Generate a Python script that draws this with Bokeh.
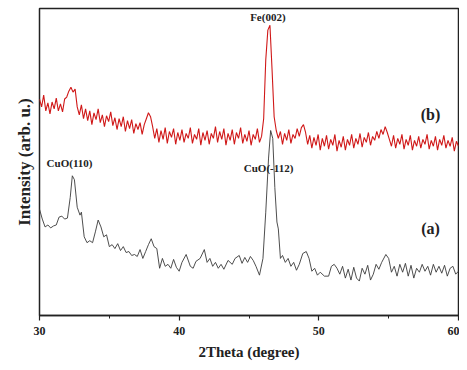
import numpy as np
from bokeh.plotting import figure
from bokeh.models import Range1d, FixedTicker
from bokeh.core.properties import value
from bokeh.embed import file_html
from bokeh.resources import INLINE

# curve (a): CuO sample
a_x = [30.0, 30.2, 30.4, 30.6, 30.8, 31.0, 31.2, 31.4, 31.6, 31.8, 32.0, 32.2, 32.35, 32.5, 32.7, 32.9,
       33.0, 33.2, 33.4, 33.6, 33.8, 34.0, 34.2, 34.4, 34.6, 34.8, 35.0, 35.2, 35.4, 35.6, 35.8,
       36.0, 36.2, 36.4, 36.6, 36.8, 37.0, 37.2, 37.4, 37.6, 37.8, 38.0, 38.2, 38.4, 38.6, 38.8,
       39.0, 39.2, 39.4, 39.6, 39.8, 40.0, 40.2, 40.5, 40.8, 41.0, 41.2, 41.5, 41.8, 42.0, 42.2,
       42.4, 42.6, 42.8, 43.0, 43.2, 43.5, 43.8, 44.0, 44.3, 44.5, 44.7, 44.9, 45.1, 45.3, 45.5,
       45.75, 46.0, 46.2, 46.4, 46.55, 46.7, 46.85, 47.0, 47.1, 47.25, 47.4, 47.6, 47.8, 48.0,
       48.2, 48.4, 48.6, 48.85, 49.1, 49.3, 49.5, 49.7, 49.9, 50.1, 50.4, 50.7, 50.9, 51.1, 51.3,
       51.5, 51.7, 51.9, 52.1, 52.3, 52.5, 52.7, 52.9, 53.1, 53.3, 53.5, 53.7, 53.9, 54.1, 54.3,
       54.5, 54.8, 55.0, 55.2, 55.4, 55.6, 55.8, 56.0, 56.2, 56.4, 56.6, 56.8, 57.0, 57.2, 57.4,
       57.6, 57.8, 58.0, 58.2, 58.4, 58.6, 58.8, 59.0, 59.2, 59.4, 59.6, 59.8, 60.0]
a_y = [108, 98, 90, 92, 89, 91, 92, 100, 101, 98, 99, 120, 142, 138, 110, 102,
       105, 80, 74, 76, 74, 85, 97, 90, 80, 82, 70, 72, 68, 73, 66,
       70, 64, 65, 61, 62, 60, 67, 58, 65, 72, 78, 70, 68, 48, 58,
       50, 52, 48, 57, 49, 45, 54, 62, 50, 48, 55, 58, 67, 54, 58,
       50, 54, 48, 52, 47, 56, 52, 58, 61, 53, 59, 54, 60, 56, 50,
       41, 58, 105, 160, 188, 180, 130, 95, 88, 58, 61, 54, 58, 50,
       54, 46, 52, 63, 65, 58, 45, 48, 41, 44, 40, 40, 50, 52, 48,
       42, 50, 38, 47, 36, 49, 38, 35, 48, 42, 51, 36, 42, 52, 47,
       54, 62, 58, 44, 50, 40, 52, 44, 53, 40, 51, 38, 48, 44, 52,
       45, 50, 41, 52, 44, 50, 43, 51, 40, 48, 50, 42, 45]

# curve (b): Fe sample, sampled every 0.15 degree from 30 to 60
b_y = [220, 212, 224, 208, 216, 205, 217, 210, 221, 208,
       215, 207, 220, 222, 228, 232, 227, 230, 212, 204,
       214, 200, 210, 198, 208, 194, 206, 199, 210, 196,
       204, 192, 203, 197, 207, 193, 201, 189, 200, 192,
       202, 187, 198, 190, 199, 185, 195, 189, 196, 184,
       194, 200, 206, 202, 192, 180, 190, 176, 188, 179,
       191, 175, 187, 181, 190, 174, 186, 178, 189, 176,
       185, 180, 191, 175, 184, 179, 190, 173, 186, 178,
       188, 174, 185, 180, 192, 176, 187, 179, 190, 173,
       185, 178, 189, 174, 186, 180, 191, 175, 184, 177,
       188, 173, 184, 179, 190, 176, 182, 200, 260, 290,
       295, 250, 202, 188, 180, 187, 174, 185, 178, 189,
       175, 184, 180, 190, 182, 191, 194, 186, 174, 183,
       170, 181, 173, 184, 168, 180, 172, 183, 169, 179,
       173, 184, 167, 178, 171, 182, 168, 179, 173, 184,
       170, 180, 174, 185, 171, 181, 176, 186, 173, 182,
       178, 187, 180, 189, 184, 192, 186, 179, 172, 183,
       170, 180, 174, 184, 169, 179, 173, 183, 168, 178,
       172, 182, 170, 179, 174, 184, 169, 178, 172, 182,
       168, 179, 173, 183, 170, 178, 172, 181, 167, 177,
       172]
b_x = list(np.linspace(30.0, 60.0, len(b_y)))

# annotations
ann_text = ["Fe(002)", "CuO(110)", "CuO(-112)"]
ann_x = [46.35, 32.15, 46.4]
ann_y = [303, 155, 150]
tag_text = ["(b)", "(a)"]
tag_x = [58.0, 58.0]
tag_y = [204, 88]

x_ticks = [30, 40, 50, 60]
x_minor = [35, 45, 55]

SERIF = "Liberation Serif"

p = figure(width=459, height=362, output_backend="svg", toolbar_location=None,
           x_range=Range1d(30, 60), y_range=Range1d(0, 312),
           min_border_left=39, min_border_right=1, min_border_top=8, min_border_bottom=42)
p.grid.visible = False
p.background_fill_color = "white"
p.border_fill_color = "white"
p.outline_line_color = "#222222"
p.outline_line_width = 1.5

p.line(a_x, a_y, line_color="#3a3a3a", line_width=0.9)
p.line(b_x, b_y, line_color="#d01818", line_width=1.1)

p.text(x=ann_x, y=ann_y, text=ann_text, text_font=value(SERIF), text_font_style="bold",
       text_font_size="11px", text_align="center", text_baseline="middle", text_color="#222222")
p.text(x=tag_x, y=tag_y, text=tag_text, text_font=value(SERIF), text_font_style="bold",
       text_font_size="16px", text_align="center", text_baseline="middle", text_color="#222222")

xa = p.xaxis[0]
xa.ticker = FixedTicker(ticks=x_ticks, minor_ticks=x_minor)
xa.axis_line_color = "#222222"
xa.axis_line_width = 1.5
xa.major_tick_line_color = "#222222"
xa.major_tick_line_width = 1.2
xa.major_tick_out = 5
xa.major_tick_in = 0
xa.minor_tick_line_color = "#222222"
xa.minor_tick_out = 3
xa.minor_tick_in = 0
xa.major_label_text_font = SERIF
xa.major_label_text_font_style = "bold"
xa.major_label_text_font_size = "12px"
xa.major_label_text_color = "#222222"
xa.major_label_standoff = 6
xa.axis_label = "2Theta (degree)"
xa.axis_label_text_font = SERIF
xa.axis_label_text_font_style = "bold"
xa.axis_label_text_font_size = "15px"
xa.axis_label_text_color = "#222222"
xa.axis_label_standoff = 6

ya = p.yaxis[0]
ya.ticker = FixedTicker(ticks=[])
ya.axis_line_color = None
ya.major_tick_line_color = None
ya.minor_tick_line_color = None
ya.axis_label = "Intensity (arb. u.)"
ya.axis_label_text_font = SERIF
ya.axis_label_text_font_style = "bold"
ya.axis_label_text_font_size = "17px"
ya.axis_label_text_color = "#222222"
ya.axis_label_standoff = 6

open("out.html", "w").write(file_html(p, INLINE))
